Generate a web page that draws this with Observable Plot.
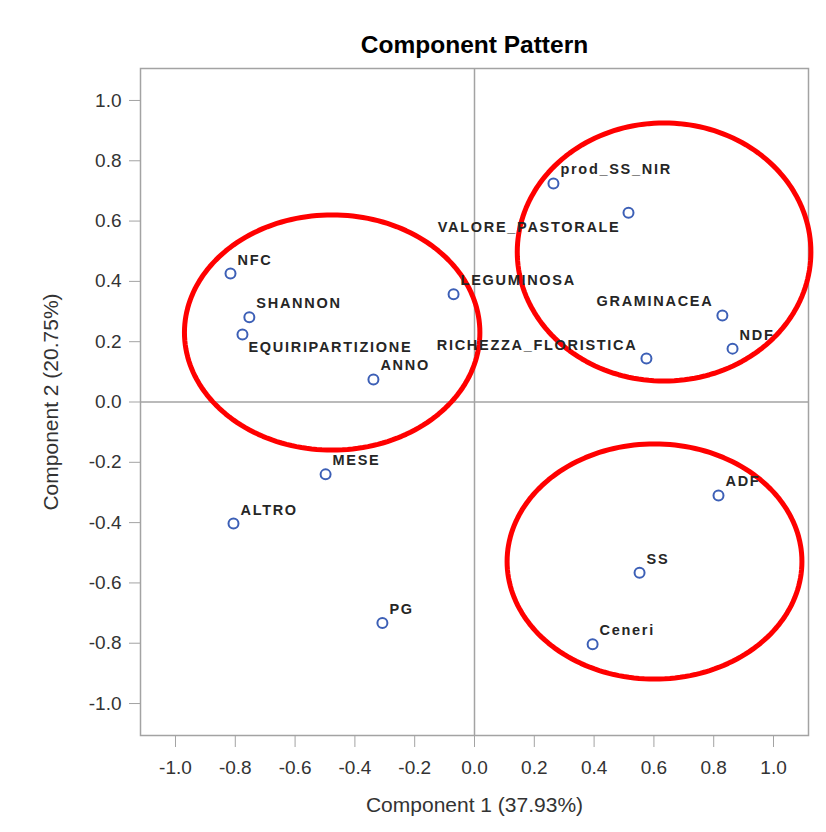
<!DOCTYPE html>
<html>
<head>
<meta charset="utf-8">
<script src="https://cdn.jsdelivr.net/npm/d3@7"></script>
<script src="https://cdn.jsdelivr.net/npm/@observablehq/plot@0.6"></script>
<style>
  html, body { margin: 0; padding: 0; background: #fff; }
  #chart svg { display: block; }
</style>
</head>
<body>
<div id="chart"></div>
<script>
// ---- data ----
const variables = ["prod_SS_NIR", "VALORE_PASTORALE", "LEGUMINOSA", "GRAMINACEA", "NDF",
  "RICHEZZA_FLORISTICA", "NFC", "SHANNON", "EQUIRIPARTIZIONE", "ANNO", "MESE", "ALTRO",
  "PG", "ADF", "SS", "Ceneri"];
const component1 = [0.264, 0.515, -0.070, 0.829, 0.863, 0.575, -0.816, -0.753, -0.776,
  -0.338, -0.498, -0.806, -0.308, 0.816, 0.552, 0.395];
const component2 = [0.725, 0.628, 0.357, 0.287, 0.177, 0.144, 0.426, 0.281, 0.224,
  0.075, -0.240, -0.403, -0.733, -0.310, -0.566, -0.803];
const xTicks = [-1.0, -0.8, -0.6, -0.4, -0.2, 0.0, 0.2, 0.4, 0.6, 0.8, 1.0];
const yTicks = [-1.0, -0.8, -0.6, -0.4, -0.2, 0.0, 0.2, 0.4, 0.6, 0.8, 1.0];
const titleText = "Component Pattern";
const xLabel = "Component 1 (37.93%)";
const yLabel = "Component 2 (20.75%)";
// red annotation ellipses (centre and radii in data units)
const ellipseCx = [-0.476, 0.634, 0.602];
const ellipseCy = [0.2305, 0.4975, -0.529];
const ellipseRx = [0.494, 0.491, 0.493];
const ellipseRy = [0.390, 0.428, 0.390];

// label placement relative to the point (layout, not data)
const lowerLeft = new Set(["VALORE_PASTORALE"]);
const upperLeft = new Set(["GRAMINACEA", "RICHEZZA_FLORISTICA"]);
const lowerRight = new Set(["EQUIRIPARTIZIONE"]);

const points = variables.map((name, i) => ({name, x: component1[i], y: component2[i]}));
const ur = points.filter(d => !lowerLeft.has(d.name) && !upperLeft.has(d.name) && !lowerRight.has(d.name));
const ul = points.filter(d => upperLeft.has(d.name));
const ll = points.filter(d => lowerLeft.has(d.name));
const lr = points.filter(d => lowerRight.has(d.name));

const ellipsePts = [];
ellipseCx.forEach((cx, k) => {
  for (let a = 0; a <= 360; a += 2) {
    const t = a * Math.PI / 180;
    ellipsePts.push({k, x: cx + ellipseRx[k] * Math.cos(t), y: ellipseCy[k] + ellipseRy[k] * Math.sin(t)});
  }
});

const fmt = d => d.toFixed(1);
const gray = "#a3a3a3";
const labelFont = {fontSize: 14.5, fontWeight: "bold", fill: "#262626", lineAnchor: "bottom"};

const plot = Plot.plot({
  width: 826,
  height: 832,
  marginLeft: 140,
  marginRight: 18,
  marginTop: 68,
  marginBottom: 97,
  style: {fontFamily: "'Liberation Sans', Arial, sans-serif", background: "#fff", overflow: "visible"},
  x: {domain: [-1.117, 1.117]},
  y: {domain: [-1.106, 1.106]},
  marks: [
    Plot.ruleX([0], {stroke: gray, strokeWidth: 1.5}),
    Plot.ruleY([0], {stroke: gray, strokeWidth: 1.5}),
    Plot.frame({stroke: gray, strokeWidth: 1.5}),
    Plot.axisX({ticks: xTicks, tickFormat: fmt, tickSize: 12, tickPadding: 13, stroke: gray, fill: "#333", fontSize: 19, label: null}),
    Plot.axisY({ticks: yTicks, tickFormat: fmt, tickSize: 11, tickPadding: 8, stroke: gray, fill: "#333", fontSize: 19, label: null}),
    Plot.line(ellipsePts, {x: "x", y: "y", z: "k", stroke: "#ff0000", strokeWidth: 5, curve: "linear-closed"}),
    Plot.dot(points, {x: "x", y: "y", r: 5, stroke: "#3c5fb6", strokeWidth: 2, fill: "white"}),
    Plot.text(ur, {x: "x", y: "y", text: "name", textAnchor: "start", dx: 7, dy: -9, ...labelFont}),
    Plot.text(ul, {x: "x", y: "y", text: "name", textAnchor: "end", dx: -9, dy: -9, ...labelFont}),
    Plot.text(ll, {x: "x", y: "y", text: "name", textAnchor: "end", dx: -8, dy: 19, ...labelFont}),
    Plot.text(lr, {x: "x", y: "y", text: "name", textAnchor: "start", dx: 6, dy: 18, ...labelFont}),
    Plot.text([titleText], {frameAnchor: "top", dy: -16, lineAnchor: "bottom", fontSize: 24.5, fontWeight: "bold", fill: "#000"}),
    Plot.text([xLabel], {frameAnchor: "bottom", dy: 76, lineAnchor: "bottom", textAnchor: "middle", fontSize: 21, fill: "#333"}),
    Plot.text([yLabel], {frameAnchor: "left", dx: -83, rotate: -90, lineAnchor: "bottom", textAnchor: "middle", fontSize: 21, fill: "#333"})
  ]
});

const names = new Set(variables);
d3.select(plot).selectAll("text").filter(function() { return names.has(this.textContent); })
  .style("letter-spacing", "1.7px");

document.getElementById("chart").appendChild(plot);
</script>
</body>
</html>
